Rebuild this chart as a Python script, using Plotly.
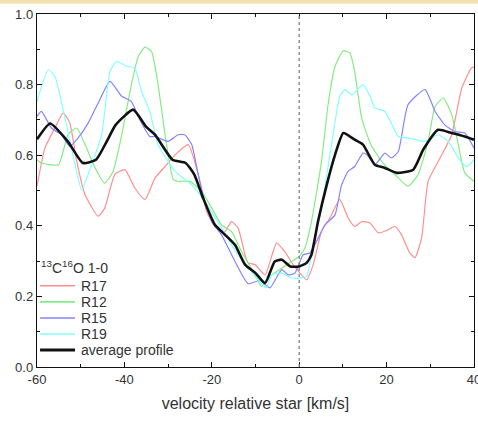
import plotly.graph_objects as go

# ---- data ----
avg_v = [-60, -57, -53, -49.5, -46.5, -44, -42, -38, -35, -33, -29, -26, -24, -22, -19.3, -17, -14.7, -12.4, -10, -7.8,
         -5.6, -4, -2, 0, 1.7, 2.8, 4.3, 6.3, 8.2, 10.1, 12.7, 14.6, 17.3, 19.6, 22.3, 26.1, 28.4, 31.8, 34.9, 37.9, 40]
avg_y = [0.645, 0.69, 0.64, 0.578, 0.587, 0.64, 0.686, 0.729, 0.68, 0.658, 0.587, 0.578, 0.545, 0.479, 0.403, 0.375,
         0.346, 0.29, 0.266, 0.238, 0.299, 0.304, 0.285, 0.285, 0.295, 0.318, 0.412, 0.516, 0.601, 0.663, 0.644, 0.63,
         0.573, 0.564, 0.55, 0.559, 0.616, 0.672, 0.663, 0.653, 0.644]

r19_v = [-60, -57.4, -55.9, -53.6, -51.3, -49.8, -47.5, -45.2, -43.3, -41.8, -39.5, -37.6, -36.1, -34.2, -32.3, -28.4,
         -24.6, -21.6, -17.8, -14, -9, -7.5, -6.3, -4, -1.7, 0, 1.7, 2.8, 5.1, 7.4, 9.3, 10.5, 12, 14.6, 16.2, 17.3,
         19.6, 22.7, 24.9, 28.8, 31.8, 34.1, 36.4, 38.3, 40]
r19_y = [0.752, 0.842, 0.823, 0.705, 0.573, 0.502, 0.573, 0.658, 0.837, 0.866, 0.852, 0.847, 0.781, 0.724, 0.63, 0.554,
         0.516, 0.469, 0.394, 0.318, 0.242, 0.225, 0.261, 0.266, 0.252, 0.252, 0.257, 0.318, 0.45, 0.63, 0.767, 0.786,
         0.771, 0.8, 0.767, 0.734, 0.724, 0.653, 0.649, 0.639, 0.658, 0.639, 0.592, 0.568, 0.587]

r12_v = [-60, -59, -55.1, -52.9, -50.9, -49, -46.7, -44.5, -42.6, -40.6, -38.4, -36.8, -35.3, -33.8, -32.3, -30.7,
         -28.8, -27.7, -25, -22.3, -20, -17.8, -15.5, -13.2, -10.1, -8.6, -6.3, -4, -1.7, 0, 1.3, 2.8, 5.1, 6.6, 8.2,
         10.1, 11.6, 12.7, 14.3, 16.4, 18.9, 21.9, 24.9, 27.2, 29.5, 31.1, 33, 34.9, 36.4, 37.9, 40]
r12_y = [0.587, 0.578, 0.573, 0.658, 0.677, 0.63, 0.564, 0.521, 0.554, 0.658, 0.8, 0.88, 0.906, 0.894, 0.8, 0.658,
         0.531, 0.526, 0.526, 0.497, 0.45, 0.403, 0.384, 0.327, 0.261, 0.228, 0.261, 0.28, 0.299, 0.313, 0.337, 0.412,
         0.582, 0.743, 0.852, 0.896, 0.889, 0.837, 0.705, 0.63, 0.582, 0.545, 0.512, 0.545, 0.639, 0.738, 0.762,
         0.715, 0.63, 0.55, 0.526]

r15_v = [-60, -59, -56.7, -54.4, -52.5, -50.6, -48.3, -46, -43.3, -40.6, -38.4, -36.5, -34.2, -33, -30, -27.7, -26.2,
         -24.6, -23.1, -21.6, -20, -17.8, -14.7, -11.7, -9, -6.7, -4, -2.5, -1, 0.9, 2.4, 4, 5.9, 8.2, 9.7, 11.2, 12.7,
         14.6, 15.5, 17.3, 19.6, 21.1, 22.7, 24.9, 28.8, 31.1, 33.3, 35.6, 37.9, 40]
r15_y = [0.71, 0.724, 0.677, 0.658, 0.625, 0.649, 0.691, 0.748, 0.809, 0.767, 0.752, 0.701, 0.653, 0.653, 0.639, 0.658,
         0.658, 0.63, 0.545, 0.469, 0.412, 0.375, 0.299, 0.236, 0.245, 0.224, 0.276, 0.261, 0.266, 0.318, 0.323, 0.356,
         0.403, 0.431, 0.516, 0.554, 0.568, 0.606, 0.601, 0.573, 0.606, 0.592, 0.611, 0.743, 0.786, 0.724, 0.686,
         0.667, 0.663, 0.62]

r17_v = [-60, -58.2, -55.9, -54, -52.5, -50.9, -49, -46, -44.5, -42.2, -39.9, -37.6, -35.3, -33, -30.7, -28.4, -25.4,
         -23.1, -21.2, -19.3, -17, -15.5, -14, -12.4, -11.7, -10.1, -7.8, -5.2, -3.3, -1.4, 0.2, 1.7, 3.2, 5.1, 7,
         9.3, 11.2, 12.7, 14.3, 16.2, 18.1, 20.4, 21.9, 23.4, 25.3, 26.5, 28, 29.5, 31.8, 34.9, 37.2, 39.4, 40]
r17_y = [0.512, 0.62, 0.677, 0.72, 0.691, 0.582, 0.488, 0.427, 0.45, 0.545, 0.559, 0.507, 0.474, 0.535, 0.568, 0.601,
         0.63, 0.545, 0.441, 0.398, 0.384, 0.412, 0.394, 0.318, 0.295, 0.29, 0.261, 0.351, 0.327, 0.29, 0.266, 0.247,
         0.29, 0.384, 0.422, 0.474, 0.422, 0.398, 0.412, 0.408, 0.38, 0.389, 0.398, 0.375, 0.323, 0.31, 0.365, 0.526,
         0.582, 0.658, 0.79, 0.847, 0.85]

x_ticks = [-60, -40, -20, 0, 20, 40]
y_ticks = [0.0, 0.2, 0.4, 0.6, 0.8, 1.0]
legend_title = "<sup>13</sup>C<sup>16</sup>O 1-0"

FONT = "Liberation Sans, Arial, sans-serif"
TXT = "#333333"

fig = go.Figure()
series = [
    ("R17", r17_v, r17_y, "#ff8f8f", 1.2),
    ("R12", r12_v, r12_y, "#84ec84", 1.2),
    ("R15", r15_v, r15_y, "#8484ff", 1.2),
    ("R19", r19_v, r19_y, "#84ffff", 1.2),
    ("average profile", avg_v, avg_y, "#111111", 2.6),
]
for name, xv, yv, col, w in series:
    fig.add_trace(go.Scatter(x=xv, y=yv, mode="lines", name=name, showlegend=False,
                             line=dict(color=col, width=w, shape="spline", smoothing=0.5)))

# dashed line at zero velocity
fig.add_shape(type="line", xref="x", yref="paper", x0=0, x1=0, y0=0, y1=1,
              line=dict(color="#808080", width=1.3, dash="3px,3px"))
# yellowish band at top of picture
fig.add_shape(type="rect", xref="paper", yref="paper", x0=-0.1, x1=1.05, y0=1.029, y1=1.045,
              fillcolor="#f2e2b0", line=dict(width=0), layer="below")

# compact legend (drawn as line samples + text, inside lower-left corner)
leg_top = 0.230
leg_step = 0.0455
fig.add_annotation(xref="paper", yref="paper", x=0.004, y=leg_top + 0.052, xanchor="left", yanchor="middle",
                   text=legend_title, showarrow=False, font=dict(family=FONT, size=14, color=TXT))
for i, (name, xv, yv, col, w) in enumerate(series):
    yy = leg_top - i * leg_step
    fig.add_shape(type="line", xref="paper", yref="paper", x0=0.007, x1=0.087, y0=yy, y1=yy,
                  line=dict(color=col, width=w + 0.4))
    fig.add_annotation(xref="paper", yref="paper", x=0.095, y=yy, xanchor="left", yanchor="middle",
                       text=name, showarrow=False, font=dict(family=FONT, size=14, color=TXT))

axis_common = dict(showline=True, linecolor="#111111", linewidth=1.4, mirror="allticks",
                   ticks="inside", ticklen=5, tickwidth=1.3, tickcolor="#111111",
                   showgrid=False, zeroline=False, ticklabeloverflow="allow", automargin=False,
                   tickfont=dict(family=FONT, size=13, color=TXT))

fig.update_xaxes(range=[-60, 40], tickvals=x_ticks, ticktext=[str(v) for v in x_ticks],
                 minor=dict(dtick=10, ticks="inside", ticklen=3, tickcolor="#111111", tickwidth=1.2),
                 title=dict(text="velocity relative star [km/s]", font=dict(family=FONT, size=16, color=TXT),
                            standoff=12),
                 **axis_common)
fig.update_yaxes(range=[0, 1.0], tickvals=y_ticks, ticktext=[f"{v:.1f}" for v in y_ticks],
                 minor=dict(dtick=0.1, ticks="inside", ticklen=3, tickcolor="#111111", tickwidth=1.2),
                 **axis_common)

fig.update_layout(
    width=478, height=421,
    margin=dict(l=37, r=4, t=14, b=54, autoexpand=False),
    paper_bgcolor="white", plot_bgcolor="white",
    showlegend=False,
)

fig.write_html("out.html")
